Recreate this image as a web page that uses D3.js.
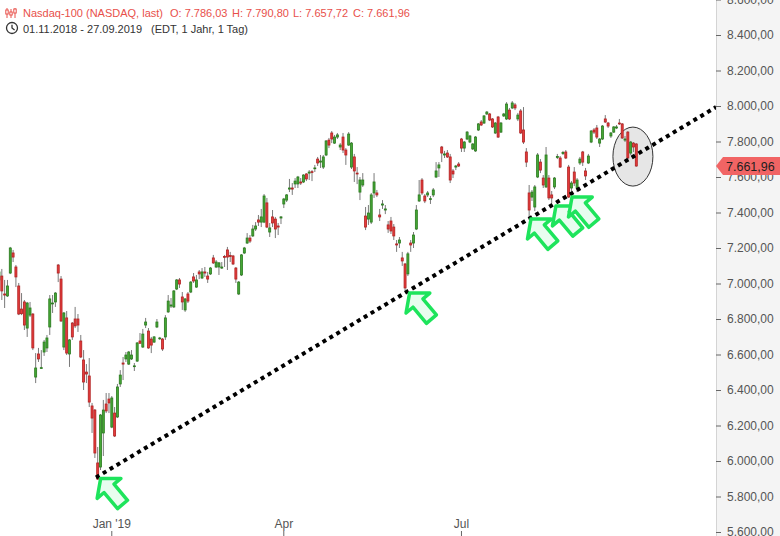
<!DOCTYPE html>
<html><head><meta charset="utf-8">
<script src="https://cdn.jsdelivr.net/npm/d3@7"></script>
<style>
html,body{margin:0;padding:0;background:#fff;}
svg{display:block;font-family:"Liberation Sans",Arial,sans-serif;}
</style></head><body>
<svg id="c" width="780" height="536"></svg>
<script>
// ---- data (Nasdaq-100 daily candles, 01.11.2018 - 27.09.2019, index = trading day) ----
const opens=[7020,7042,6941,6930,7059,7172,7093,6986,6856,6896,6749,6822,6828,6473,6603,6522,6614,6637,6755,6885,6896,7104,7025,6642,6806,6603,6777,6800,6800,6676,6569,6501,6479,6310,6287,5989,5966,6158,6321,6349,
6191,6270,6248,6434,6552,6575,6546,6575,6533,6563,6676,6642,6766,6732,6687,6670,6755,6690,6687,6699,6840,6873,6868,6969,7020,6924,6851,6941,6952,7037,
6980,7065,7031,7065,7042,7054,7144,7093,7093,7087,7152,7189,7158,7155,7087,6941,7048,7172,7228,7256,7268,7307,7358,7346,7346,7454,7290,7375,7363,7324,
7369,7448,7470,7532,7538,7561,7561,7572,7572,7617,7622,7630,7648,7701,7684,7656,7724,7808,7848,7791,7825,7769,7825,7752,7780,7656,7713,7622,7515,7555,
7380,7363,7346,7510,7510,7386,7442,7414,7330,7352,7318,7223,7228,7144,7110,7054,7228,7228,7307,7465,7583,7493,7499,7473,7499,7600,7651,7769,7724,7735,
7713,7634,7656,7673,7814,7763,7814,7797,7758,7747,7865,7910,7904,7955,7955,7927,7848,7938,7853,7944,7927,7977,7989,8006,7927,7972,7865,7741,7510,7487,
7431,7600,7684,7594,7544,7594,7499,7544,7710,7707,7732,7741,7656,7538,7628,7538,7679,7741,7634,7679,7797,7865,7876,7791,7814,7927,7904,7831,7853,7876,
7904,7899,7808,7853,7735,7791,7786.03];
const highs=[7087,7082,7020,7020,7206,7189,7104,7003,6946,6907,6896,6896,6833,6608,6637,6625,6682,6710,6935,6935,6952,7110,7042,6839,6845,6687,6783,6868,6828,6710,6625,6546,6580,6327,6293,6079,6265,6344,6383,6383,
6366,6304,6434,6512,6586,6614,6620,6625,6552,6670,6721,6744,6806,6749,6699,6704,6800,6699,6693,6822,6935,6918,6963,7025,7031,6952,6918,6952,7014,7059,
7048,7076,7087,7093,7065,7093,7161,7132,7121,7121,7161,7206,7178,7161,7093,7014,7166,7206,7284,7273,7330,7346,7386,7420,7504,7482,7341,7414,7375,7341,
7380,7482,7504,7589,7566,7594,7606,7594,7616,7622,7639,7639,7668,7713,7724,7724,7808,7820,7859,7837,7848,7791,7848,7763,7853,7797,7730,7656,7600,7622,
7431,7442,7510,7622,7527,7420,7470,7442,7352,7375,7335,7245,7262,7178,7116,7178,7245,7290,7442,7583,7594,7504,7521,7493,7538,7684,7684,7775,7747,7752,
7730,7645,7668,7684,7820,7803,7859,7837,7791,7831,7904,7921,7949,7972,7961,7932,7910,7944,7910,7961,8022,7989,8028,8017,7961,7983,7994,7763,7555,7527,
7555,7735,7701,7611,7769,7611,7521,7600,7730,7718,7747,7752,7668,7577,7656,7594,7713,7747,7651,7730,7865,7876,7893,7820,7893,7949,7910,7853,7887,7893,
7927,7904,7831,7859,7803,7797,7790.80];
const lows=[7003,6907,6862,6924,7053,7121,6980,6822,6822,6738,6699,6811,6625,6439,6558,6520,6592,6614,6710,6834,6868,7008,6783,6625,6597,6530,6682,6749,6727,6580,6400,6439,6304,6158,6017,5893,5949,6028,6270,6270,
6185,6135,6242,6417,6456,6558,6541,6569,6507,6558,6665,6637,6749,6632,6608,6665,6749,6682,6620,6682,6834,6862,6862,6963,6975,6851,6840,6890,6946,7003,
6975,7025,7025,7037,7003,7048,7110,7087,7048,7082,7093,7076,7121,7104,7003,6935,7042,7166,7223,7228,7262,7296,7324,7318,7340,7312,7262,7318,7256,7273,
7335,7425,7459,7515,7499,7538,7538,7555,7566,7577,7583,7577,7628,7662,7651,7645,7718,7763,7791,7786,7814,7752,7735,7668,7775,7645,7572,7560,7470,7544,
7301,7330,7335,7482,7487,7352,7420,7391,7285,7279,7245,7178,7200,7099,6958,7042,7178,7200,7301,7459,7499,7453,7487,7448,7487,7594,7600,7684,7707,7707,
7566,7594,7639,7656,7741,7741,7808,7791,7752,7741,7859,7887,7899,7949,7915,7876,7842,7820,7848,7938,7921,7921,7983,7977,7915,7842,7786,7656,7358,7465,
7408,7594,7622,7538,7538,7470,7453,7532,7701,7651,7724,7701,7482,7521,7549,7515,7668,7662,7583,7673,7791,7842,7814,7769,7808,7904,7876,7820,7848,7870,
7893,7814,7797,7690,7724,7741,7657.72];
const closes=[7065,6958,6935,6986,7200,7149,7037,6828,6830,6766,6890,6862,6637,6524,6575,6526,6670,6693,6913,6890,6946,7059,6789,6834,6608,6682,6699,6761,6766,6586,6445,6490,6332,6242,6045,5898,6259,6287,6282,6327,
6355,6141,6417,6484,6546,6597,6614,6597,6536,6665,6663,6715,6783,6637,6653,6699,6783,6693,6631,6806,6901,6879,6958,7020,6997,6896,6913,6901,7008,7014,
7020,7054,7065,7059,7025,7087,7116,7121,7116,7093,7149,7149,7152,7110,7025,7008,7161,7200,7256,7239,7307,7324,7346,7375,7493,7318,7313,7341,7307,7318,
7375,7476,7499,7538,7532,7577,7600,7566,7611,7589,7628,7626,7651,7679,7690,7713,7803,7780,7814,7825,7837,7780,7752,7724,7842,7791,7634,7617,7583,7583,
7318,7397,7499,7572,7499,7375,7448,7420,7307,7296,7268,7217,7245,7127,6975,7167,7217,7273,7414,7499,7510,7465,7510,7478,7527,7634,7668,7735,7730,7713,
7583,7617,7662,7662,7763,7797,7853,7831,7786,7825,7899,7893,7944,7966,7921,7882,7904,7825,7904,7955,8011,7927,8017,7989,7949,7848,7797,7684,7414,7515,
7544,7724,7639,7555,7724,7482,7482,7594,7716,7656,7738,7707,7487,7566,7566,7583,7701,7684,7606,7718,7859,7853,7825,7814,7887,7910,7887,7848,7882,7882,
7899,7820,7814,7707,7797,7769,7661.96];

const yTicks=[5600,5800,6000,6200,6400,6600,6800,7000,7200,7400,7600,7800,8000,8200,8400,8600];
const xTickIdx=[40,101,164];
const xTickLabels=["Jan '19","Apr","Jul"];
const lastPrice=7661.96;
const trendPts=[[34.4,5907],[254.3,7994]];
const arrowTips=[[36.06,5902],[145.6,6946],[188.65,7363],[197.5,7437],[203.2,7487]];
const circleAt=[224.8,7715];
const headerTitle="Nasdaq-100 (NASDAQ, last)";
const headerVals=["O: 7.786,03","H: 7.790,80","L: 7.657,72","C: 7.661,96"];
const headerRange="01.11.2018 - 27.09.2019";
const headerInfo="(EDT, 1 Jahr, 1 Tag)";

// ---- chart ----
const W=780,H=536,axisX=716;
const svg=d3.select("#c");
const x=d3.scaleLinear().domain([0,226]).range([-1,636.3]);
const y=d3.scaleLinear().domain([6000,8000]).range([461,106]);
const loc=d3.formatLocale({decimal:",",thousands:".",grouping:[3],currency:["",""]});
const fmt=loc.format(",.2f");

const data=opens.map((o,i)=>({i,o,h:highs[i],l:lows[i],c:closes[i]}));

// ellipse highlight
svg.append("ellipse").attr("cx",x(circleAt[0])).attr("cy",y(circleAt[1]))
  .attr("rx",20).attr("ry",29.5).attr("fill","#e6e6e6").attr("stroke","#333").attr("stroke-width",1);

const plot=svg.append("g");
const cg=plot.selectAll("g.c").data(data).join("g");
cg.append("line").attr("x1",d=>x(d.i)).attr("x2",d=>x(d.i))
  .attr("y1",d=>y(d.h)).attr("y2",d=>y(d.l)).attr("stroke","#7a7a7a").attr("stroke-width",1);
cg.append("rect").attr("x",d=>x(d.i)-1).attr("width",2)
  .attr("y",d=>y(Math.max(d.o,d.c)))
  .attr("height",d=>Math.max(0.8,Math.abs(y(d.o)-y(d.c))))
  .attr("fill",d=>d.c>=d.o?"#45a735":"#e63b3b")
  .attr("stroke",d=>d.c>=d.o?"#2a7a1e":"#b02222").attr("stroke-width",0.8);

// dotted trend line
svg.append("path").attr("d",d3.line().x(d=>x(d[0])).y(d=>y(d[1]))(trendPts))
  .attr("fill","none").attr("stroke","#000").attr("stroke-width",4).attr("stroke-dasharray","4,4");

// arrows
const arrowShape=[[0,0],[15.5,13],[6.5,13],[6.5,34],[-6.5,34],[-6.5,13],[-15.5,13]];
arrowTips.forEach(t=>{
  svg.append("polygon").attr("points",arrowShape.map(p=>p.join(",")).join(" "))
    .attr("transform",`translate(${x(t[0])},${y(t[1])}) rotate(-40)`)
    .attr("fill","#e8fdef").attr("stroke","#1ee45c").attr("stroke-width",3.5).attr("stroke-linejoin","round");
});

// right axis panel
svg.append("rect").attr("x",axisX).attr("y",0).attr("width",W-axisX).attr("height",H).attr("fill","#f4f4f4");
svg.append("line").attr("x1",axisX+0.5).attr("x2",axisX+0.5).attr("y1",0).attr("y2",H).attr("stroke","#d4d4d4");
const ya=svg.append("g").attr("transform",`translate(${axisX},0)`)
  .call(d3.axisRight(y).tickValues(yTicks).tickFormat(fmt).tickSize(5).tickPadding(6));
ya.select(".domain").remove();
ya.selectAll("line").attr("stroke","#666");
ya.selectAll("text").attr("fill","#555").attr("font-size",12).attr("font-family","Liberation Sans, Arial, sans-serif");

// price tag
const yp=y(lastPrice);
svg.append("polygon").attr("points",`${axisX},${yp} ${axisX+7},${yp-9} ${W},${yp-9} ${W},${yp+9} ${axisX+7},${yp+9}`)
  .attr("fill","#f16464");
svg.append("text").attr("x",axisX+10).attr("y",yp+4.5).attr("font-size",12.5).attr("fill","#1e1e1e").text(fmt(lastPrice));

// bottom ticks
const xb=svg.append("g");
xTickIdx.forEach((ti,k)=>{
  xb.append("line").attr("x1",x(ti)).attr("x2",x(ti)).attr("y1",531).attr("y2",H).attr("stroke","#666");
  xb.append("text").attr("x",x(ti)).attr("y",528).attr("text-anchor","middle").attr("font-size",12).attr("fill","#555").text(xTickLabels[k]);
});

// header
const hd=svg.append("g").attr("font-size",11);
const ic=hd.append("g").attr("stroke","#e8504a").attr("fill","none").attr("stroke-width",1);
[[7,8,18,10,14],[11,9,18,12,15],[15,8,18,9,13]].forEach(b=>{
  ic.append("line").attr("x1",b[0]).attr("x2",b[0]).attr("y1",b[1]).attr("y2",b[2]);
  ic.append("rect").attr("x",b[0]-1.2).attr("y",b[3]).attr("width",2.4).attr("height",b[4]-b[3]).attr("fill","#fff");
});
hd.append("text").attr("x",23).attr("y",16.5).attr("fill","#e8504a").text(headerTitle);
[170,232,293,353].forEach((xx,k)=>hd.append("text").attr("x",xx).attr("y",16.5).attr("fill","#e8504a").text(headerVals[k]));
const clk=hd.append("g").attr("stroke","#333").attr("fill","none").attr("stroke-width",1.3);
clk.append("circle").attr("cx",12).attr("cy",28).attr("r",5.5);
clk.append("path").attr("d","M12,24.8 V28 L14.6,30");
hd.append("text").attr("x",23).attr("y",32.5).attr("fill","#333").text(headerRange);
hd.append("text").attr("x",151).attr("y",32.5).attr("fill","#333").text(headerInfo);
</script>
</body></html>
